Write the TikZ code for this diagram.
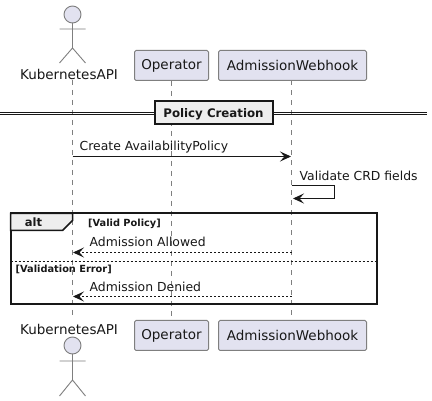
\documentclass[tikz,border=0pt]{standalone}
\usepackage{fontspec}
\setmainfont{DejaVu Sans}
\usetikzlibrary{arrows.meta,calc}
\definecolor{partfill}{HTML}{E2E2F0}
\definecolor{partline}{HTML}{7F7F7F}
\definecolor{inkc}{HTML}{181818}
\definecolor{secfill}{HTML}{EEEEEE}
\tikzset{
  x=1pt,y=-1pt,
  part/.style={draw=partline,fill=partfill,rounded corners=1.5pt,line width=1pt,minimum height=30pt,inner sep=0pt,font=\fontsize{13.5}{16}\selectfont,text=inkc,anchor=center},
  actorlabel/.style={font=\fontsize{13.5}{16}\selectfont,text=inkc,inner sep=0pt},
  life/.style={draw=partline,line width=0.7pt,dash pattern=on 5pt off 5pt},
  actorline/.style={draw=partline,line width=0.9pt},
  msg/.style={draw=inkc,line width=1pt,-{Stealth[length=11pt,width=10pt,inset=4.5pt]}},
  reply/.style={msg,dash pattern=on 2pt off 2pt},
  msglabel/.style={font=\fontsize{12.4}{14}\selectfont,text=inkc,inner sep=0pt,anchor=base west},
  guard/.style={font=\bfseries\fontsize{9.8}{11}\selectfont,text=inkc,inner sep=0pt,anchor=base west},
  framebox/.style={draw=inkc,line width=2pt},
}
\begin{document}
\begin{tikzpicture}
\useasboundingbox (0,0) rectangle (432,401);
\fill[white] (0,0) rectangle (432,401);

% lifelines endpoints
\coordinate (kt) at (72.5,80);
\coordinate (kb) at (72.5,317);

% participant boxes
\node[part,minimum width=74pt] (opT) at (171.5,65.5) {Operator};
\node[part,minimum width=148pt] (awT) at (292.5,65.5) {AdmissionWebhook};
\node[part,minimum width=74pt] (opB) at (171.5,335.5) {Operator};
\node[part,minimum width=148pt] (awB) at (292.5,335.5) {AdmissionWebhook};

\coordinate (awTl) at (291.5,80.5);
\coordinate (awBl) at (291.5,320);
\draw[life] (kt) -- (kb);
\draw[life] (opT.south) -- (opB.north);
\draw[life] (awTl) -- (awBl);

% top actor
\node[actorlabel] (kT) at (69,74) {KubernetesAPI};
\draw[actorline,fill=partfill] (72.5,14.5) circle (8.5);
\draw[actorline] (72.5,23) -- (72.5,48) (59.5,29) -- (85.5,29)
  (59.5,63) -- (72.5,48) -- (85.5,63);

% bottom actor
\node[actorlabel] (kB) at (69,329) {KubernetesAPI};
\draw[actorline,fill=partfill] (72.5,345.5) circle (8.5);
\draw[actorline] (72.5,354) -- (72.5,380) (59.5,361) -- (85.5,361)
  (59.5,396) -- (72.5,380) -- (85.5,396);

% divider
\coordinate (dl) at (0,113.5);
\coordinate (dr) at (427,113.5);
\draw[inkc,line width=1pt] ($(dl)+(0,-1.3)$) -- ($(dr)+(0,-1.3)$);
\draw[inkc,line width=1pt] ($(dl)+(0,1.3)$) -- ($(dr)+(0,1.3)$);
\node[draw=inkc,line width=2pt,fill=secfill,minimum width=118pt,minimum height=23pt,inner sep=0pt,text=inkc,text height=8.5pt,text depth=0pt,font=\bfseries\fontsize{11.8}{12}\selectfont] (sec) at (213.5,113) {Policy Creation};

% create
\coordinate (a1) at (72.5,156.5);
\coordinate (b1) at (291,156.5);
\draw[msg] (a1) -- (b1);
\node[msglabel] (l1) at (79.5,150.5) {Create AvailabilityPolicy};

% self
\coordinate (s0) at (291.5,185.5);
\coordinate (s1) at (334.5,185.5);
\coordinate (s2) at (334.5,198.5);
\coordinate (s3) at (293,198.5);
\draw[msg] (s0) -- (s1) -- (s2) -- (s3);
\node[msglabel] (l2) at (299.5,181) {Validate CRD fields};

% alt frame
\draw[framebox] (10.5,213.5) rectangle (376.5,304.5);
\draw[inkc,line width=1.5pt,fill=secfill] (10.5,213.5) -- (72.5,213.5) -- (72.5,220.5) -- (62.5,230.5) -- (10.5,230.5) -- cycle;
\draw[framebox] (10.5,213.5) -- (72.5,213.5);
\node[font=\bfseries\fontsize{11.5}{12}\selectfont,text=inkc,inner sep=0pt] (alt) at (33.5,222.5) {alt};
\node[guard] (g1) at (88,226.5) {[Valid Policy]};
\draw[inkc,line width=0.9pt,dash pattern=on 2pt off 2pt] (10.5,261.5) -- (376.5,261.5);
\node[guard] (g2) at (15.5,272.5) {[Validation Error]};

% replies
\coordinate (a2) at (291.5,252.5);
\coordinate (b2) at (73,252.5);
\draw[reply] (a2) -- (b2);
\node[msglabel] (l3) at (89.5,247) {Admission Allowed};
\coordinate (a3) at (291.5,296.5);
\coordinate (b3) at (73,296.5);
\draw[reply] (a3) -- (b3);
\node[msglabel] (l4) at (89.5,291.5) {Admission Denied};
\end{tikzpicture}
\end{document}
